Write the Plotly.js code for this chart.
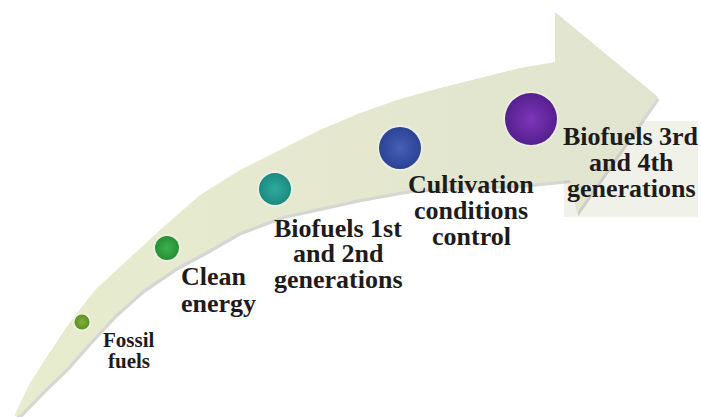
<!DOCTYPE html>
<html>
<head>
<meta charset="utf-8">
<script src="https://cdn.plot.ly/plotly-3.0.1.min.js"></script>
<style>
  html, body { margin: 0; padding: 0; background: #ffffff; }
  #chart { width: 701px; height: 417px; }
</style>
</head>
<body>
<div id="chart"></div>
<script>
// ---- stages (data) ----
const stages = ['Fossil fuels', 'Clean energy', 'Biofuels 1st and 2nd generations',
                'Cultivation conditions control', 'Biofuels 3rd and 4th generations'];
const stageX = [82, 167, 275, 400, 531];
const stageY = [322, 248, 189, 148, 119];
const stageSize = [15, 24, 32, 42, 52];
const stageEdge = ['#5f8f22', '#278f35', '#1c8a80', '#2c4294', '#561f8f'];
const stageCenter = ['#80b03a', '#3eb04c', '#30aa9c', '#4561b8', '#7d36b8'];

// ---- label lines ----
const labelLines = [
  ['Fossil', 'fuels'],
  ['Clean', 'energy'],
  ['Biofuels 1st', 'and 2nd', 'generations'],
  ['Cultivation', 'conditions', 'control'],
  ['Biofuels 3rd', 'and 4th', 'generations']
];
const labelX = [129, 180, 338, 471, 631];
const labelAnchor = ['center', 'left', 'center', 'center', 'center'];
const labelBaseline = [347, 285, 237, 193, 145];
const labelStep = [21.5, 27, 25.5, 26, 26];
const labelSize = [21, 26, 26, 26, 26];

// ---- arrow outline (upper edge, head, lower edge back to tail) ----
const arrowUpperX = [14, 30, 50, 70, 95, 127, 160, 200, 240, 280, 320, 360, 400, 440, 480, 520, 555];
const arrowUpperY = [416, 383, 352, 322, 290, 260, 230, 195, 170, 150, 130, 113, 99, 88, 78, 68, 62];
const arrowHeadX = [555, 658, 577, 570];
const arrowHeadY = [12, 97, 213, 180];
const arrowLowerX = [520, 470, 410, 360, 333, 283, 240, 205, 177, 143, 115, 90, 67, 43, 20, 14];
const arrowLowerY = [185, 187, 190, 199, 205, 216, 232, 252, 267, 290, 315, 342, 368, 391, 415, 416];

const arrowX = arrowUpperX.concat(arrowHeadX, arrowLowerX);
const arrowY = arrowUpperY.concat(arrowHeadY, arrowLowerY);

const traces = [];

// shadow of the arrow
traces.push({
  x: arrowX.map(v => v + 1.5), y: arrowY.map(v => v + 3),
  mode: 'lines', fill: 'toself', line: {width: 0},
  fillcolor: 'rgba(165,165,155,0.45)', hoverinfo: 'skip'
});
// arrow body
traces.push({
  x: arrowX, y: arrowY,
  mode: 'lines', fill: 'toself', line: {width: 0},
  fillgradient: {type: 'horizontal', colorscale: [[0, '#e8ecce'], [1, '#e1e4cf']]},
  fillcolor: '#e3e6cf', hoverinfo: 'skip'
});
// faint halo around circles
traces.push({
  x: stageX, y: stageY, mode: 'markers', hoverinfo: 'skip',
  marker: {size: stageSize.map(s => s + 4), color: 'rgba(240,246,248,0.45)', opacity: 1, line: {width: 0}}
});
// circles (radial gradient: marker colour at edge, gradient colour at centre)
traces.push({
  x: stageX, y: stageY, mode: 'markers', text: stages, hoverinfo: 'text',
  marker: {
    size: stageSize, color: stageEdge, opacity: 1, line: {width: 0},
    gradient: {type: 'radial', color: stageCenter}
  }
});

const annotations = [];
labelLines.forEach((lines, i) => {
  lines.forEach((t, j) => {
    const base = labelBaseline[i] + j * labelStep[i];
    annotations.push({
      x: labelX[i], y: base - 0.34 * labelSize[i], xref: 'x', yref: 'y',
      text: t, showarrow: false, xanchor: labelAnchor[i], yanchor: 'middle',
      borderpad: 0,
      font: {family: 'Liberation Serif, Times New Roman, serif', size: labelSize[i], color: '#1f1b1c', weight: 'bold'}
    });
  });
});

const layout = {
  width: 701, height: 417,
  margin: {l: 0, r: 0, t: 0, b: 0},
  paper_bgcolor: '#ffffff', plot_bgcolor: '#ffffff',
  showlegend: false, hovermode: 'closest',
  xaxis: {range: [0, 701], visible: false, fixedrange: true},
  yaxis: {range: [417, 0], visible: false, fixedrange: true},
  shapes: [{
    type: 'rect', xref: 'x', yref: 'y', x0: 564, x1: 698, y0: 121, y1: 217,
    fillcolor: 'rgba(236,238,226,0.8)', line: {width: 0}, layer: 'below'
  }],
  annotations: annotations
};

Plotly.newPlot('chart', traces, layout, {displayModeBar: false, staticPlot: true});
</script>
</body>
</html>
